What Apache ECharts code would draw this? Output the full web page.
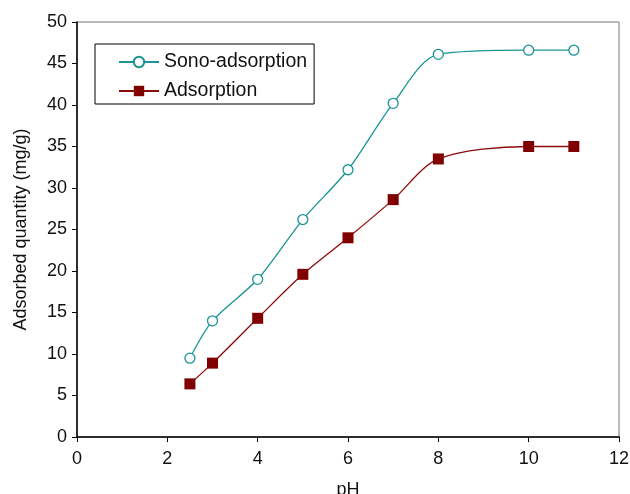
<!DOCTYPE html>
<html>
<head>
<meta charset="utf-8">
<script src="https://cdn.jsdelivr.net/npm/echarts@6/dist/echarts.min.js"></script>
<style>html,body{margin:0;padding:0;background:#fff;}#main{width:630px;height:494px;}</style>
</head>
<body>
<div id="main"></div>
<script>
var ph = [2.5, 3, 4, 5, 6, 7, 8, 10, 11];
var sono = [9.5, 14.0, 19.0, 26.2, 32.2, 40.2, 46.1, 46.6, 46.6];
var adsorption = [6.4, 8.9, 14.3, 19.6, 24.0, 28.6, 33.5, 35.0, 35.0];

function pairs(xs, ys) {
    return xs.map(function (x, i) { return [x, ys[i]]; });
}

var chart = echarts.init(document.getElementById('main'));
var font = 'Liberation Sans';
option = {
    animation: false,
    grid: {
        left: 77, right: 11, top: 22, bottom: 57,
        outerBoundsMode: 'none',
        show: true, borderColor: '#777', borderWidth: 1
    },
    legend: {
        orient: 'vertical',
        left: 95, top: 44,
        itemWidth: 40, itemHeight: 13, itemGap: 9,
        padding: [8, 7, 3, 23],
        borderColor: '#000', borderWidth: 1, borderRadius: 0,
        textStyle: {fontFamily: font, fontSize: 19.5, color: '#111'},
        data: ['Sono-adsorption', 'Adsorption']
    },
    xAxis: {
        type: 'value', min: 0, max: 12, interval: 2,
        name: 'pH', nameLocation: 'middle', nameGap: 44,
        nameTextStyle: {fontFamily: font, fontSize: 18, color: '#111'},
        axisLine: {show: true, lineStyle: {color: '#000', width: 1.5}},
        axisTick: {show: true, length: 5, lineStyle: {color: '#000'}},
        axisLabel: {fontFamily: font, fontSize: 18, color: '#111', margin: 13},
        splitLine: {show: false}
    },
    yAxis: {
        type: 'value', min: 0, max: 50, interval: 5,
        name: 'Adsorbed quantity (mg/g)', nameLocation: 'middle', nameGap: 47,
        nameTextStyle: {fontFamily: font, fontSize: 18, color: '#111'},
        axisLine: {show: true, lineStyle: {color: '#000', width: 1.5}},
        axisTick: {show: true, length: 5, lineStyle: {color: '#000'}},
        axisLabel: {fontFamily: font, fontSize: 18, color: '#111', margin: 10},
        splitLine: {show: false}
    },
    series: [
        {
            name: 'Sono-adsorption', type: 'line', smooth: 0.3,
            data: pairs(ph, sono),
            symbol: 'circle', symbolSize: 10,
            lineStyle: {color: '#1a9494', width: 1.3},
            itemStyle: {color: '#fff', borderColor: '#1a9494', borderWidth: 1.3}
        },
        {
            name: 'Adsorption', type: 'line', smooth: 0.3,
            data: pairs(ph, adsorption),
            symbol: 'rect', symbolSize: 11,
            lineStyle: {color: '#8b0a0a', width: 1.3},
            itemStyle: {color: '#800000'}
        }
    ]
};
chart.setOption(option);
</script>
</body>
</html>
